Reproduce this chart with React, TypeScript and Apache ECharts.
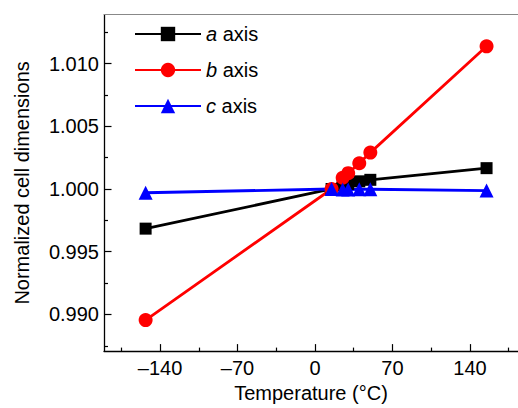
import React, { useEffect, useRef } from "react";
import * as echarts from "echarts";

const temps = [-153, 15, 25, 30, 40, 50, 155];
const aAxis = [0.99684, 1.0, 1.0003, 1.0004, 1.00061, 1.00073, 1.00166];
const bAxis = [0.98955, 1.0, 1.0009, 1.00126, 1.00205, 1.0029, 1.01137];
const cAxis = [0.9997, 1.0, 0.99995, 0.99995, 0.99998, 0.99998, 0.99987];

const xMajor = [-140, -70, 0, 70, 140];
const xMinor = [-175, -105, -35, 35, 105, 175];
const yMajor = [0.99, 0.995, 1.0, 1.005, 1.01];
const yMinor = [0.9875, 0.9925, 0.9975, 1.0025, 1.0075, 1.0125];

const FONT = "'Liberation Sans', Arial, Helvetica, sans-serif";

export default function App() {
  const ref = useRef<HTMLDivElement>(null);
  useEffect(() => {
    if (!ref.current) return;
    const chart = echarts.init(ref.current, undefined, { renderer: "svg" });
    const xMin = -190.6;
    const xMax = 183.4;
    const yMin = 0.98708;
    const yMax = 1.01389;
    const axisLine = { show: true, onZero: false, lineStyle: { color: "#000", width: 1.3 } };
    const mk = (name: string, data: number[], color: string, symbol: string, size: number) => ({
      name,
      type: "line",
      xAxisIndex: 0,
      yAxisIndex: 0,
      data: temps.map((t, i) => [t, data[i]]),
      symbol,
      symbolSize: size,
      showAllSymbol: true,
      lineStyle: { color, width: 2.8 },
      itemStyle: { color },
    });
    chart.setOption({
      animation: false,
      textStyle: { fontFamily: FONT },
      grid: { left: 104, right: 0, top: 14.7, bottom: 54, containLabel: false },
      legend: {
        left: 134,
        top: 24,
        padding: 0,
        orient: "vertical",
        itemWidth: 66,
        itemHeight: 18,
        itemGap: 16,
        data: ["a", "b", "c"],
        formatter: (n: string) => `{i|${n}} axis`,
        textStyle: {
          fontSize: 20,
          color: "#000",
          fontFamily: FONT,
          rich: { i: { fontStyle: "italic", fontSize: 20, fontFamily: FONT } },
        },
      },
      xAxis: [
        {
          type: "value",
          min: xMin,
          max: xMax,
          position: "bottom",
          name: "Temperature (°C)",
          nameLocation: "middle",
          nameGap: 31,
          nameTextStyle: { fontSize: 20, color: "#000", fontFamily: FONT },
          axisLine,
          axisTick: { show: true, inside: true, length: 7, customValues: xMajor, lineStyle: { color: "#000", width: 1.2 } },
          axisLabel: {
            customValues: xMajor,
            fontSize: 20,
            color: "#000",
            margin: 7,
            fontFamily: FONT,
            formatter: (v: number) => (v < 0 ? "\u2013" + Math.abs(v) : String(v)),
          },
          splitLine: { show: false },
        },
        {
          type: "value",
          min: xMin,
          max: xMax,
          position: "bottom",
          axisLine: { show: false, onZero: false },
          axisTick: { show: true, inside: true, length: 3.5, customValues: xMinor, lineStyle: { color: "#000", width: 1.2 } },
          axisLabel: { show: false },
          splitLine: { show: false },
        },
        {
          type: "value",
          min: xMin,
          max: xMax,
          position: "top",
          axisLine: { show: true, onZero: false, lineStyle: { color: "#888", width: 1 } },
          axisTick: { show: false },
          axisLabel: { show: false },
          splitLine: { show: false },
        },
      ],
      yAxis: [
        {
          type: "value",
          min: yMin,
          max: yMax,
          position: "left",
          name: "Normalized cell dimensions",
          nameLocation: "middle",
          nameGap: 72,
          nameTextStyle: { fontSize: 20, color: "#000", fontFamily: FONT },
          axisLine,
          axisTick: { show: true, inside: true, length: 7.5, customValues: yMajor, lineStyle: { color: "#000", width: 1.2 } },
          axisLabel: {
            customValues: yMajor,
            fontSize: 20,
            color: "#000",
            margin: 5,
            fontFamily: FONT,
            formatter: (v: number) => v.toFixed(3),
          },
          splitLine: { show: false },
        },
        {
          type: "value",
          min: yMin,
          max: yMax,
          position: "left",
          axisLine: { show: false, onZero: false },
          axisTick: { show: true, inside: true, length: 4, customValues: yMinor, lineStyle: { color: "#000", width: 1.2 } },
          axisLabel: { show: false },
          splitLine: { show: false },
        },
      ],
      series: [
        mk("a", aAxis, "#000000", "rect", 12),
        mk("b", bAxis, "#ff0000", "circle", 14),
        mk("c", cAxis, "#0000ff", "triangle", 14),
      ],
    });
    return () => chart.dispose();
  }, []);
  return (
    <div
      ref={ref}
      style={{ position: "fixed", left: 0, top: 0, width: 518, height: 408, background: "#fff" }}
    />
  );
}
